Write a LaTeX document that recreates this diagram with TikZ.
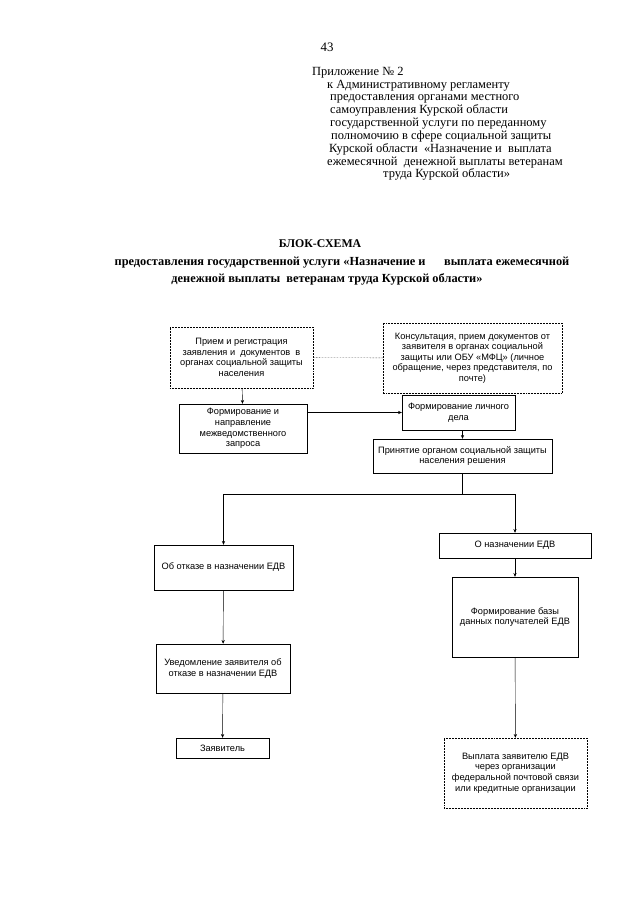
\documentclass[tikz,border=0pt]{standalone}
\usepackage{fontspec}
\setmainfont{Liberation Serif}
\newfontfamily\arialfont{Liberation Sans}
\usetikzlibrary{positioning,arrows.meta,calc}

\begin{document}
\begin{tikzpicture}[x=0.93pt, y=-0.93pt, >={Stealth[length=3.5pt,width=3pt]},
  box/.style={draw, thin, inner sep=1pt, align=center, font=\arialfont\fontsize{8.6}{9.8}\selectfont},
  dotbox/.style={box, densely dotted},
  line/.style={->, thin},
  annex/.style={anchor=mid west, inner sep=0pt, font=\fontsize{11.6}{13}\selectfont}]
  \useasboundingbox (0,0) rectangle (640,905);

  % header
  \node[font=\fontsize{12}{13}\selectfont] (page) at (327,47) {43};
  \foreach \i/\x/\y/\t in {1/312/73/{Приложение № 2},
      2/327/86/{к Административному регламенту},
      3/330/98/{предоставления органами местного},
      4/330/111/{самоуправления Курской области},
      5/330/124/{государственной услуги по переданному},
      6/331/137/{полномочию в сфере социальной защиты},
      7/329/150/{Курской области \ «Назначение и \ выплата},
      8/327/163/{ежемесячной \ денежной выплаты ветеранам},
      9/383/175/{труда Курской области»}}
    \node[annex] (annex\i) at (\x,\y) {\t};

  \node[font=\bfseries\fontsize{11}{13}\selectfont] (title) at (320,244) {БЛОК-СХЕМА};
  \node[font=\bfseries\fontsize{11.5}{13}\selectfont] (sub1) at (342,263) {предоставления государственной услуги «Назначение и \quad\ выплата ежемесячной};
  \node[font=\bfseries\fontsize{11.5}{13}\selectfont] (sub2) at (327,279) {денежной выплаты \ ветеранам труда Курской области»};

  % flow chart
  \node[dotbox, minimum width=133pt, minimum height=56.7pt] (reg) at (241.5,357.5)
    {Прием и регистрация\\ заявления и \ документов \ в\\ органах социальной защиты\\ населения};
  \node[dotbox, minimum width=166.5pt, minimum height=65pt] (cons) at (472.5,358)
    {Консультация, прием документов от\\ заявителя в органах социальной\\ защиты или ОБУ «МФЦ» (личное\\ обращение, через представителя, по\\ почте)};
  \node[box, minimum width=119pt, minimum height=45.6pt] (req) at (243,428.5)
    {Формирование и\\ направление\\ межведомственного\\ запроса};
  \node[box, minimum width=105pt, minimum height=32.6pt] (file) at (458.5,412.5)
    {Формирование личного\\ дела};
  \node[box, minimum width=166.5pt, minimum height=31.6pt] (dec) at (462.5,456)
    {Принятие органом социальной защиты\\ населения решения};
  \node[box, minimum width=129.3pt, minimum height=41.9pt] (refuse) at (223.5,567.5)
    {Об отказе в назначении ЕДВ};
  \node[box, minimum width=141.4pt, minimum height=23.3pt] (grant) at (515,545.5)
    {О назначении ЕДВ};
  \node[box, minimum width=117.2pt, minimum height=74.4pt] (base) at (515,617)
    {Формирование базы\\ данных получателей ЕДВ};
  \node[box, minimum width=124.6pt, minimum height=45.6pt] (notify) at (223,668.5)
    {Уведомление заявителя об\\ отказе в назначении ЕДВ};
  \node[box, minimum width=86.5pt, minimum height=18.6pt] (appl) at (222.5,748)
    {Заявитель};
  \node[dotbox, minimum width=133pt, minimum height=65.1pt] (pay) at (515.5,773)
    {Выплата заявителю ЕДВ\\ через организации\\ федеральной почтовой связи\\ или кредитные организации};

  \coordinate (fork) at (dec.south |- 0,494);

  \draw[thin, densely dotted] (reg) -- (cons);
  \draw[line] (reg) -- (req);
  \draw[line] (file.west -| req.east) -- (file.west);
  \draw[line] (dec.north |- file.south) -- (dec.north);
  \draw[thin] (dec.south) -- (fork);
  \draw[line] (fork) -| (refuse.north);
  \draw[line] (fork) -| (grant.north);
  \draw[line] (refuse) -- (notify);
  \draw[line] (notify) -- (appl);
  \draw[line] (grant) -- (base);
  \draw[line] (base) -- (pay);
\end{tikzpicture}
\end{document}
